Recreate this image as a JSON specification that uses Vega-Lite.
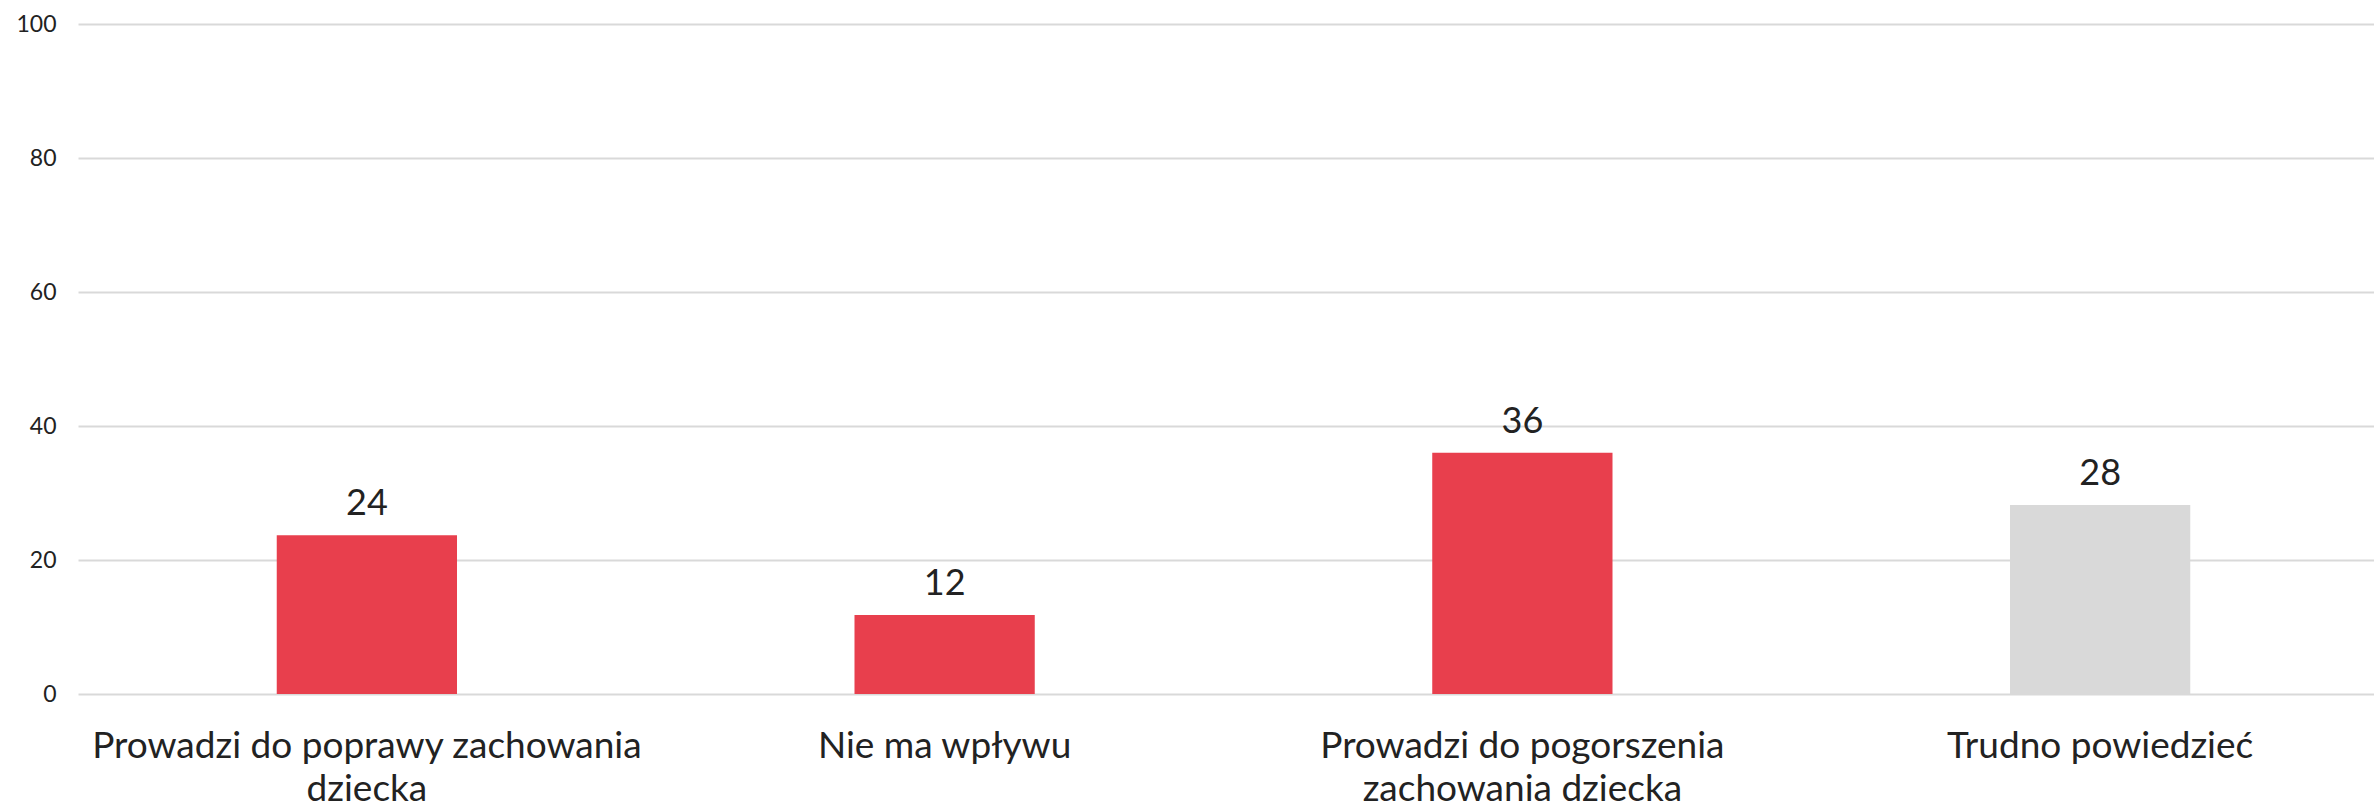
{
  "$schema": "https://vega.github.io/schema/vega-lite/v6.json",
  "autosize": "none",
  "width": 2311,
  "height": 670,
  "padding": {"left": 78, "top": 24, "right": 0, "bottom": 111},
  "background": "white",
  "config": {"font": "Lato", "view": {"stroke": null}},
  "data": {"values": [
    {"kategoria": "Prowadzi do poprawy zachowania dziecka", "wartosc": 23.7, "grupa": "wpływ"},
    {"kategoria": "Nie ma wpływu", "wartosc": 11.8, "grupa": "wpływ"},
    {"kategoria": "Prowadzi do pogorszenia zachowania dziecka", "wartosc": 36.0, "grupa": "wpływ"},
    {"kategoria": "Trudno powiedzieć", "wartosc": 28.2, "grupa": "brak zdania"}
  ]},
  "encoding": {
    "x": {
      "field": "kategoria", "type": "nominal", "sort": null,
      "scale": {"paddingInner": 0, "paddingOuter": 0},
      "axis": {
        "title": null, "domain": false, "ticks": false, "tickSize": 0,
        "labelAngle": 0, "labelFontSize": 37, "labelColor": "#222222",
        "labelPadding": 34, "labelLineHeight": 43, "labelLimit": 0,
        "labelFont": "Lato",
        "labelExpr": "datum.value == 'Prowadzi do poprawy zachowania dziecka' ? ['Prowadzi do poprawy zachowania', 'dziecka'] : datum.value == 'Prowadzi do pogorszenia zachowania dziecka' ? ['Prowadzi do pogorszenia', 'zachowania dziecka'] : datum.value"
      }
    },
    "y": {
      "field": "wartosc", "type": "quantitative",
      "scale": {"domain": [0, 100], "nice": false},
      "axis": {
        "title": null, "domain": false, "ticks": false, "tickSize": 0,
        "values": [0, 20, 40, 60, 80, 100],
        "labelFontSize": 23, "labelColor": "#222222", "labelPadding": 22,
        "labelFont": "Lato",
        "gridColor": "#d9d9d9", "gridWidth": 2
      }
    }
  },
  "layer": [
    {
      "mark": {"type": "bar", "width": {"band": 0.312}},
      "encoding": {
        "color": {
          "field": "grupa", "type": "nominal",
          "scale": {"domain": ["wpływ", "brak zdania"], "range": ["#e83f4d", "#d9d9d9"]},
          "legend": null
        }
      }
    },
    {
      "mark": {"type": "text", "baseline": "alphabetic", "dy": -20, "fontSize": 36, "color": "#222222", "font": "Lato"},
      "encoding": {
        "text": {"field": "wartosc", "type": "quantitative", "format": ".0f"}
      }
    }
  ]
}
